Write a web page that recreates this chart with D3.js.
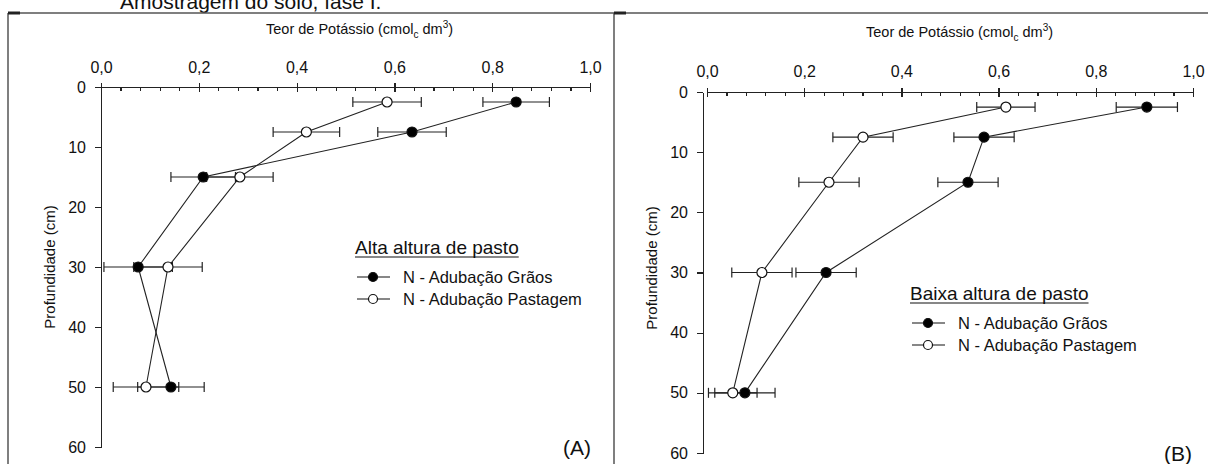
<!DOCTYPE html>
<meta charset="UTF-8">
<style>
body { margin: 0; background: #fff; }
svg text { font-family: "Liberation Sans", Arial, sans-serif; fill: #111; }
.axis path, .axis line { stroke: #222; stroke-width: 1.2px; shape-rendering: crispEdges; }
.axis text { font-size: 16px; }
.frame { stroke: #555; stroke-width: 1.5px; fill: none; }
.serie { fill: none; stroke: #222; stroke-width: 1.1px; }
.err { stroke: #222; stroke-width: 1.2px; }
</style>
<body>
<script src="https://d3js.org/d3.v7.min.js"></script>
<script>

// profundidades (cm) e teores de potassio
var depths = [2.5, 7.5, 15, 30, 50];

var altaGraos = [0.849, 0.636, 0.209, 0.076, 0.143];
var altaGraosErr = [0.068, 0.070, 0.066, 0.070, 0.068];
var altaPast = [0.585, 0.420, 0.284, 0.137, 0.092];
var altaPastErr = [0.070, 0.068, 0.068, 0.070, 0.067];

var baixaGraos = [0.905, 0.570, 0.537, 0.245, 0.078];
var baixaGraosErr = [0.063, 0.062, 0.062, 0.062, 0.062];
var baixaPast = [0.615, 0.321, 0.251, 0.113, 0.053];
var baixaPastErr = [0.060, 0.062, 0.062, 0.062, 0.050];

var xTicks = [0, 0.2, 0.4, 0.6, 0.8, 1.0];
var yTicks = [0, 10, 20, 30, 40, 50, 60];
var seriesNames = ["N - Adubação Grãos", "N - Adubação Pastagem"];

var svg = d3.select("body").append("svg")
    .attr("width", 1208)
    .attr("height", 464);

// titulo cortado no topo
svg.append("text")
    .attr("x", 120).attr("y", 9)
    .style("font-size", "21px")
    .text("Amostragem do solo, fase I.");

// molduras
svg.append("line").attr("class", "frame").attr("x1", 8).attr("x2", 1208).attr("y1", 13).attr("y2", 13);
svg.append("line").attr("class", "frame").attr("x1", 8).attr("x2", 8).attr("y1", 13).attr("y2", 464);
svg.append("line").attr("class", "frame").attr("x1", 614).attr("x2", 614).attr("y1", 13).attr("y2", 464);
svg.append("line").attr("stroke", "#222").attr("stroke-width", 3).attr("x1", 8).attr("x2", 20).attr("y1", 13).attr("y2", 13);
svg.append("line").attr("stroke", "#222").attr("stroke-width", 3).attr("x1", 614).attr("x2", 626).attr("y1", 13).attr("y2", 13);

var fmt = function(d) { return d3.format(".1f")(d).replace(".", ","); };

function panel(opt) {
  var x = d3.scaleLinear().domain([0, 1]).range(opt.xr);
  var y = d3.scaleLinear().domain([0, 60]).range(opt.yr);
  var g = svg.append("g");

  // eixo x (topo): ticks maiores cruzando, menores para baixo
  var minor = d3.range(0, 1.0001, 0.04).filter(function(v) { return Math.abs(v * 5 - Math.round(v * 5)) > 1e-6; });
  g.append("g").attr("class", "axis")
      .attr("transform", "translate(0," + opt.yr[0] + ")")
      .call(d3.axisTop(x).tickValues(xTicks).tickFormat(fmt).tickSize(4).tickSizeOuter(0).tickPadding(opt.xPad));
  g.append("g").attr("class", "axis")
      .attr("transform", "translate(0," + opt.yr[0] + ")")
      .call(d3.axisBottom(x).tickValues(xTicks).tickFormat("").tickSize(5).tickSizeOuter(0))
      .select(".domain").remove();
  g.append("g").attr("class", "axis")
      .attr("transform", "translate(0," + opt.yr[0] + ")")
      .call(d3.axisBottom(x).tickValues(minor).tickFormat("").tickSize(4).tickSizeOuter(0))
      .select(".domain").remove();

  // eixo y
  g.append("g").attr("class", "axis")
      .attr("transform", "translate(" + opt.yAxisX + ",0)")
      .call(d3.axisLeft(y).tickValues(yTicks).tickSize(6).tickSizeOuter(0).tickPadding(9));

  // titulo do eixo x com subscrito e sobrescrito
  var t = g.append("text").attr("x", opt.xLabelX).attr("y", opt.xLabelY).style("font-size", "14.5px");
  t.append("tspan").text("Teor de Potássio (cmol");
  t.append("tspan").attr("dy", 4).style("font-size", "10px").text("c");
  t.append("tspan").attr("dy", -4).text(" dm");
  t.append("tspan").attr("dy", -6).style("font-size", "10px").text("3");
  t.append("tspan").attr("dy", 6).text(")");

  g.append("text")
      .attr("transform", "translate(" + opt.yLabelX + "," + opt.yLabelY + ") rotate(-90)")
      .attr("text-anchor", "middle")
      .style("font-size", "15px")
      .text("Profundidade (cm)");

  var series = [
    {v: opt.graos, e: opt.graosErr, fill: "#000"},
    {v: opt.past, e: opt.pastErr, fill: "#fff"}
  ];

  var line = d3.line()
      .x(function(d) { return x(d.v); })
      .y(function(d) { return y(d.d); });

  series.forEach(function(s) {
    var pts = depths.map(function(d, i) { return {d: d, v: s.v[i], e: s.e[i]}; });
    g.append("path").datum(pts).attr("class", "serie").attr("d", line);
    var eb = g.append("g");
    pts.forEach(function(p) {
      eb.append("line").attr("class", "err")
          .attr("x1", x(p.v - p.e)).attr("x2", x(p.v + p.e))
          .attr("y1", y(p.d)).attr("y2", y(p.d));
      [p.v - p.e, p.v + p.e].forEach(function(c) {
        eb.append("line").attr("class", "err")
            .attr("x1", x(c)).attr("x2", x(c))
            .attr("y1", y(p.d) - 5).attr("y2", y(p.d) + 5);
      });
    });
    s.pts = pts;
  });

  series.forEach(function(s) {
    g.selectAll(null).data(s.pts).enter().append("circle")
        .attr("cx", function(d) { return x(d.v); })
        .attr("cy", function(d) { return y(d.d); })
        .attr("r", 5)
        .attr("fill", s.fill)
        .attr("stroke", "#111")
        .attr("stroke-width", 1.2);
  });

  // legenda
  var lg = g.append("g").attr("transform", "translate(" + opt.legX + "," + opt.legY + ")");
  var title = lg.append("text").attr("x", 0).attr("y", 0).style("font-size", "19px").text(opt.title);
  var tw = title.node().getComputedTextLength();
  lg.append("line").attr("x1", 0).attr("x2", tw).attr("y1", 3).attr("y2", 3).attr("stroke", "#111").attr("stroke-width", 1.2);
  series.forEach(function(s, i) {
    var yy = 23 + i * 22;
    lg.append("line").attr("x1", 2).attr("x2", 35).attr("y1", yy).attr("y2", yy).attr("stroke", "#111").attr("stroke-width", 1.2);
    lg.append("circle").attr("cx", 18).attr("cy", yy).attr("r", 4.5).attr("fill", s.fill).attr("stroke", "#111").attr("stroke-width", 1.2);
    lg.append("text").attr("x", 48).attr("y", yy + 6).style("font-size", "16.5px").text(seriesNames[i]);
  });

  g.append("text")
      .attr("x", opt.tagX).attr("y", opt.tagY)
      .attr("text-anchor", "end")
      .style("font-size", "21px")
      .text(opt.tag);
}

panel({
  xr: [101, 590], yr: [87, 447], yAxisX: 101, xPad: 10,
  graos: altaGraos, graosErr: altaGraosErr, past: altaPast, pastErr: altaPastErr,
  xLabelX: 266, xLabelY: 34, yLabelX: 55, yLabelY: 267,
  title: "Alta altura de pasto", legX: 355, legY: 254,
  tag: "(A)", tagX: 591, tagY: 455
});

panel({
  xr: [707, 1193], yr: [92, 453], yAxisX: 703, xPad: 11,
  graos: baixaGraos, graosErr: baixaGraosErr, past: baixaPast, pastErr: baixaPastErr,
  xLabelX: 866, xLabelY: 37, yLabelX: 657, yLabelY: 268,
  title: "Baixa altura de pasto", legX: 910, legY: 300,
  tag: "(B)", tagX: 1192, tagY: 461
});

</script>
</body>
